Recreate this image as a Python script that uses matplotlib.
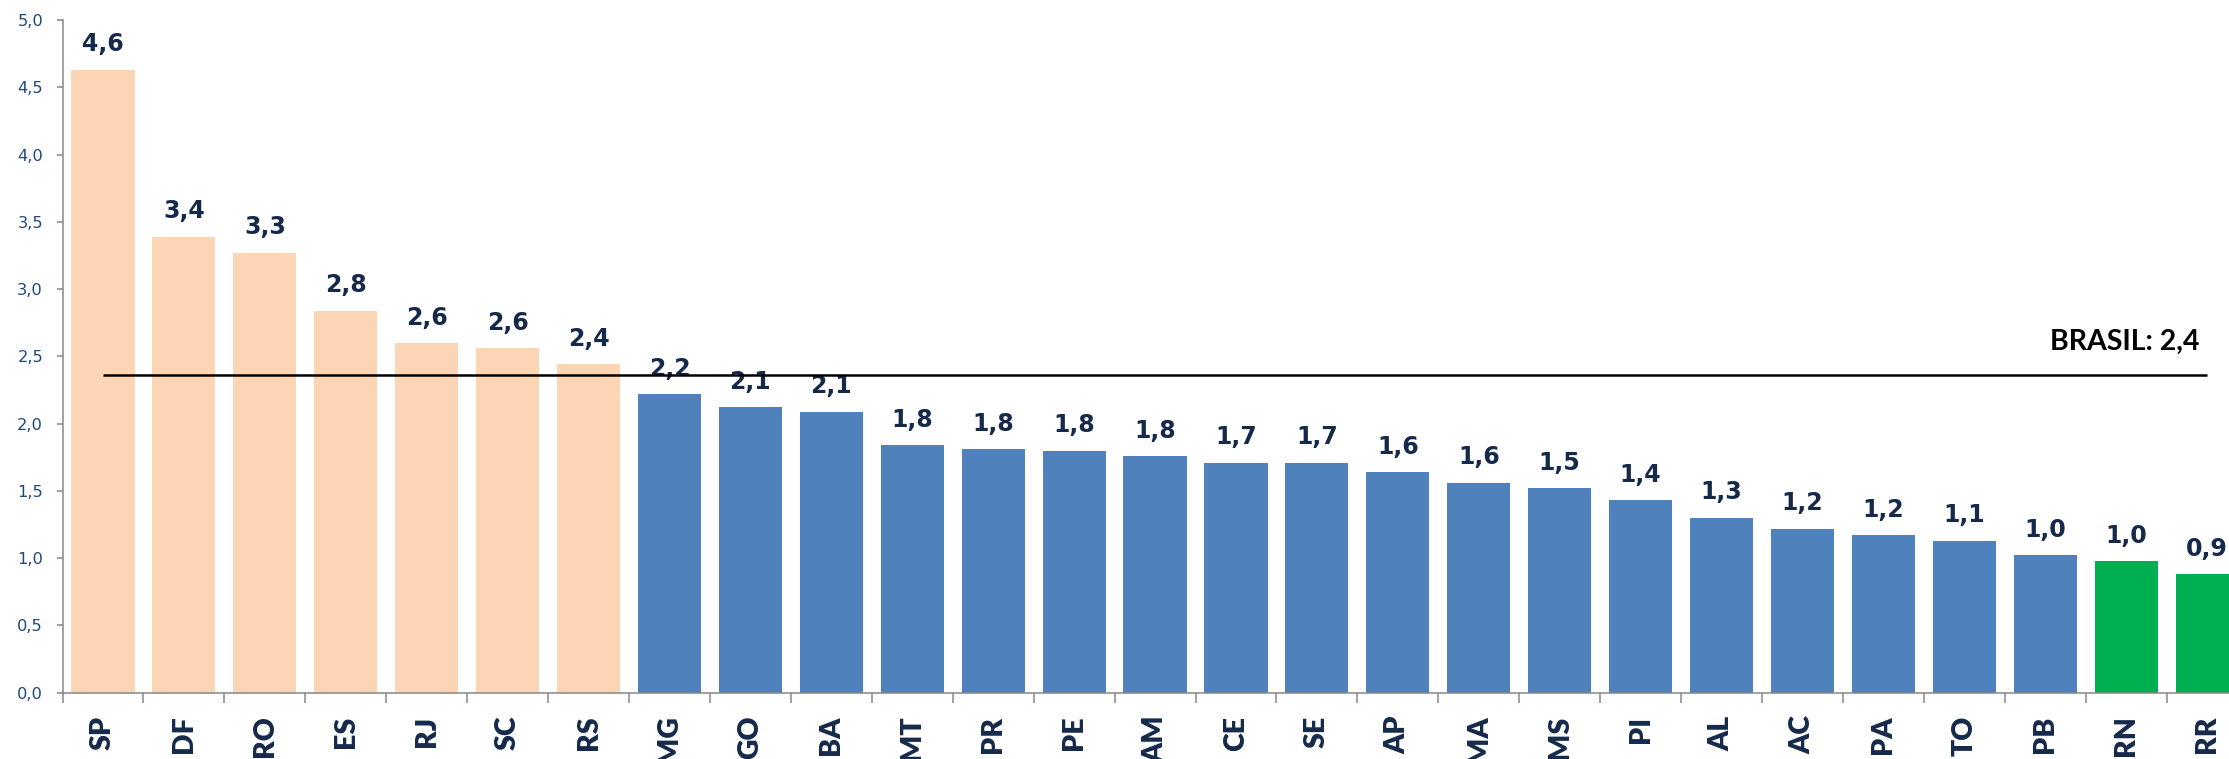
import matplotlib.pyplot as plt
import matplotlib.ticker as mticker

# dados por UF
ufs = ["SP", "DF", "RO", "ES", "RJ", "SC", "RS", "MG", "GO", "BA", "MT", "PR", "PE", "AM",
       "CE", "SE", "AP", "MA", "MS", "PI", "AL", "AC", "PA", "TO", "PB", "RN", "RR"]
valores = [4.63, 3.39, 3.27, 2.84, 2.60, 2.56, 2.44, 2.22, 2.12, 2.09, 1.84, 1.81, 1.80, 1.76,
           1.71, 1.71, 1.64, 1.56, 1.52, 1.43, 1.30, 1.22, 1.17, 1.13, 1.02, 0.98, 0.88]
grupo = ["acima"] * 7 + ["meio"] * 18 + ["baixo"] * 2
brasil = 2.36

cores = {"acima": "#FCD5B5", "meio": "#4F81BD", "baixo": "#00B050"}
azul_escuro = "#15294A"

fig = plt.figure(figsize=(22.29, 7.59), dpi=100)
ax = fig.add_axes([62.5 / 2229, 66.3 / 759, 27 * 80.93 / 2229, 672.7 / 759])

x = list(range(len(ufs)))
ax.bar(x, valores, width=0.78, color=[cores[g] for g in grupo], zorder=2)

# rotulos das barras
for xi, v in zip(x, valores):
    ax.annotate(f"{v:.1f}".replace(".", ","), (xi, v), xytext=(0, 13.2), textcoords="offset points",
                ha="center", va="baseline", fontsize=17, fontweight="bold", color=azul_escuro)

# linha Brasil
ax.hlines(brasil, 0, len(ufs) - 1, color="black", linewidth=1.8, zorder=3)
ax.text(2199 / 2229, 409 / 759, "BRASIL: 2,4", transform=fig.transFigure, ha="right", va="baseline",
        fontsize=20.5, fontweight="bold", family="Lato", color="black")

ax.set_xlim(-0.5, len(ufs) - 0.5)
ax.set_ylim(0, 5)
ax.yaxis.set_major_locator(mticker.MultipleLocator(0.5))
ax.yaxis.set_major_formatter(mticker.FuncFormatter(lambda v, p: f"{v:.1f}".replace(".", ",")))

ax.set_xticks(x)
ax.set_xticklabels(ufs, rotation=90, fontsize=20.5, fontweight="heavy", family="Lato", color=azul_escuro)
ax.set_xticks([i - 0.5 for i in range(len(ufs) + 1)], minor=True)
ax.tick_params(axis="x", which="major", length=0, pad=16.5)
ax.tick_params(axis="x", which="minor", length=7.2, width=1.1, color="#868686")
ax.tick_params(axis="y", length=4, width=1.1, color="#868686", pad=10, labelsize=11.7, labelcolor="#1F497D")

for s in ["top", "right"]:
    ax.spines[s].set_visible(False)
for s in ["left", "bottom"]:
    ax.spines[s].set_color("#868686")
    ax.spines[s].set_linewidth(1.1)

fig.savefig("out.png", dpi=100)
